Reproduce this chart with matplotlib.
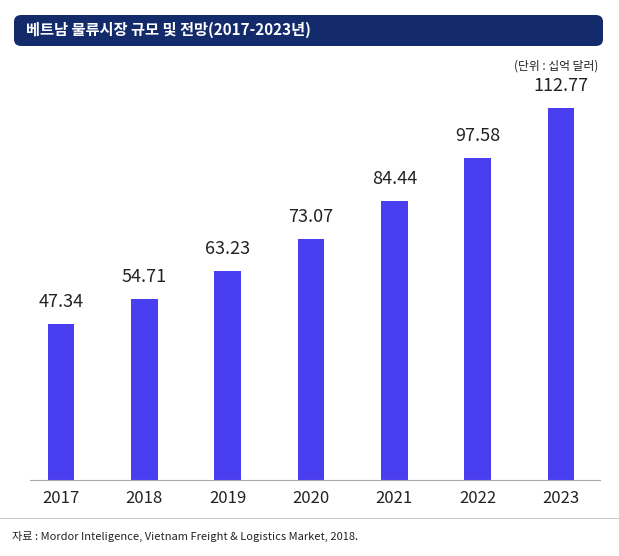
import matplotlib
matplotlib.use("Agg")
import matplotlib.pyplot as plt
from matplotlib.patches import FancyBboxPatch

plt.rcParams["font.family"] = ["Noto Sans CJK KR", "DejaVu Sans"]

years = ["2017", "2018", "2019", "2020", "2021", "2022", "2023"]
values = [47.34, 54.71, 63.23, 73.07, 84.44, 97.58, 112.77]

W, H = 619, 556
fig = plt.figure(figsize=(W / 100, H / 100), dpi=100)

# title bar
bar = FancyBboxPatch((14 / W, 1 - 46 / H), 589 / W, 31 / H,
                     boxstyle="round,pad=0,rounding_size=0.012",
                     transform=fig.transFigure, facecolor="#132a6b",
                     edgecolor="none")
fig.patches.append(bar)
fig.text(26 / W, 1 - 30 / H, "베트남 물류시장 규모 및 전망(2017-2023년)",
         color="white", fontsize=11, fontweight="bold", va="center")
fig.text(598 / W, 1 - 66 / H, "(단위 : 십억 달러)", fontsize=8.5,
         ha="right", va="center", color="#222222")

ax = fig.add_axes([30 / W, 1 - 480 / H, 570 / W, 400 / H])
x = range(len(years))
ax.bar(x, values, width=0.32, color="#4a3ff0")
for xi, v in zip(x, values):
    ax.text(xi, v + 4, f"{v:.2f}", ha="center", va="bottom", fontsize=13,
            color="#222222")
ax.set_xlim(-0.372, 6.468)
ax.set_ylim(0, 121.2)
ax.set_xticks(list(x))
ax.set_xticklabels(years, fontsize=12, color="#222222")
ax.tick_params(axis="x", length=0, pad=7)
ax.set_yticks([])
for s in ["top", "left", "right"]:
    ax.spines[s].set_visible(False)
ax.spines["bottom"].set_color("#aaaaaa")

fig.add_artist(plt.Line2D([0, 1], [1 - 518 / H] * 2, color="#cccccc", lw=0.8,
                          transform=fig.transFigure))
fig.text(12 / W, 1 - 536 / H,
         "자료 : Mordor Inteligence, Vietnam Freight & Logistics Market, 2018.",
         fontsize=8, va="center", color="#222222")

fig.savefig("out.png", dpi=100)
